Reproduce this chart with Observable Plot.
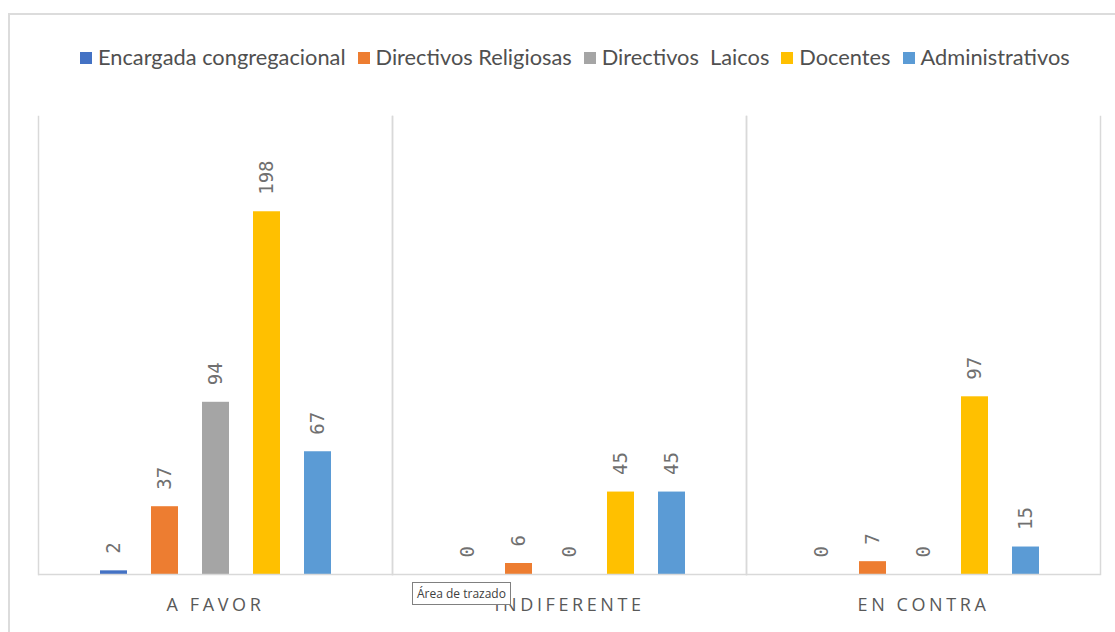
<!DOCTYPE html>
<html>
<head>
<meta charset="utf-8">
<script src="https://cdn.jsdelivr.net/npm/d3@7"></script>
<script src="https://cdn.jsdelivr.net/npm/@observablehq/plot@0.6"></script>
<style>
  html, body { margin: 0; padding: 0; background: #fff; }
  #wrap { position: relative; width: 1115px; height: 632px; overflow: hidden; background: #fff; }
  #border { position: absolute; left: 8px; top: 13px; width: 1200px; height: 700px; border: 2px solid #dcdcdc; box-sizing: border-box; }
  #legend { position: absolute; left: 80px; top: 43px; display: flex; align-items: center; font-family: Lato, "Noto Sans", sans-serif; font-size: 21.8px; color: #505050; white-space: pre; }
  #legend .item { display: flex; align-items: center; margin-right: 12px; }
  #legend .sw { width: 12px; height: 12px; margin-right: 6px; margin-top: 2px; }
  #chart { position: absolute; left: 0; top: 100px; }
  #tip { position: absolute; left: 412px; top: 582px; padding: 2px 4px; border: 1px solid #808080; background: #fff; font-family: "Open Sans", sans-serif; font-size: 12px; color: #404040; z-index: 5; }
  [aria-label="fx-axis tick label"] text { letter-spacing: 3.6px; }
</style>
</head>
<body>
<div id="wrap">
  <div id="border"></div>
  <div id="legend"></div>
  <div id="chart"></div>
  <div id="tip">Área de trazado</div>
</div>
<script>
const categories = ["A FAVOR", "INDIFERENTE", "EN CONTRA"];
const series = ["Encargada congregacional", "Directivos Religiosas", "Directivos  Laicos", "Docentes", "Administrativos"];
const colors = ["#4472C4", "#ED7D31", "#A5A5A5", "#FFC000", "#5B9BD5"];
const encargada = [2, 0, 0];
const religiosas = [37, 6, 7];
const laicos = [94, 0, 0];
const docentes = [198, 45, 97];
const administrativos = [67, 45, 15];

const seriesValues = [encargada, religiosas, laicos, docentes, administrativos];
const data = [];
categories.forEach((c, ci) => {
  series.forEach((s, si) => {
    data.push({category: c, series: s, value: seriesValues[si][ci]});
  });
});

// legend
const legend = document.getElementById("legend");
series.forEach((s, i) => {
  const item = document.createElement("div");
  item.className = "item";
  const sw = document.createElement("div");
  sw.className = "sw";
  sw.style.background = colors[i];
  const t = document.createElement("span");
  t.textContent = s;
  item.appendChild(sw);
  item.appendChild(t);
  legend.appendChild(item);
});

const chart = Plot.plot({
  width: 1115,
  height: 532,
  marginTop: 16,
  marginBottom: 58,
  marginLeft: 37,
  marginRight: 15,
  style: { background: "transparent", overflow: "visible" },
  fx: { domain: categories, padding: 0, label: null },
  x: { domain: series, paddingInner: 0.478, paddingOuter: 1.16, axis: null },
  y: { domain: [0, 250], axis: null },
  color: { domain: series, range: colors },
  marks: [
    Plot.frame({ anchor: "left", stroke: "#d9d9d9", strokeWidth: 1.5 }),
    Plot.frame({ anchor: "right", stroke: "#d9d9d9", strokeWidth: 1.5 }),
    Plot.barY(data, { fx: "category", x: "series", y: "value", fill: "series" }),
    Plot.ruleY([0], { stroke: "#d9d9d9", strokeWidth: 1.5 }),
    Plot.text(data, {
      fx: "category", x: "series", y: "value", text: d => String(d.value),
      rotate: -90, textAnchor: "start", lineAnchor: "middle", dy: -17,
      fill: "#707070", fontFamily: "DejaVu Sans Mono", fontSize: 19
    }),
    Plot.axisFx({ anchor: "bottom", tickSize: 0, tickPadding: 24, fontSize: 18, fontFamily: "Open Sans", color: "#595959", label: null })
  ]
});
document.getElementById("chart").appendChild(chart);
</script>
</body>
</html>
